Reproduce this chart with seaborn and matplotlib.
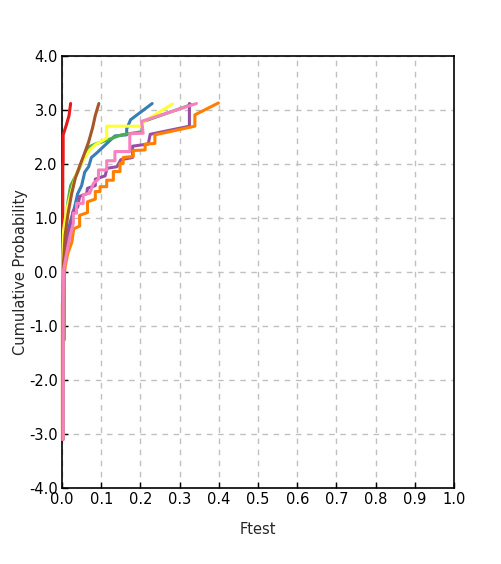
import seaborn as sns
import pandas as pd
import matplotlib.pyplot as plt

# probability-plot traces (x = Ftest, y = normal quantile)
red_x = [0.002, 0.002, 0.003, 0.003, 0.011, 0.018, 0.022]
red_y = [-0.2, 2.0, 2.02, 2.54, 2.72, 2.9, 3.12]

blue_x = [0.002, 0.002, 0.004, 0.008, 0.015, 0.022, 0.032, 0.040, 0.050, 0.058, 0.068,
          0.075, 0.088, 0.101, 0.135, 0.165, 0.165, 0.175, 0.230]
blue_y = [-3.1, -0.2, 0.15, 0.45, 0.75, 0.95, 1.20, 1.45, 1.60, 1.85, 1.95,
          2.12, 2.20, 2.29, 2.52, 2.54, 2.65, 2.82, 3.12]

green_x = [0.002, 0.002, 0.006, 0.006, 0.008, 0.010, 0.015, 0.022, 0.040, 0.055, 0.070,
           0.085, 0.110, 0.152, 0.205, 0.205, 0.330]
green_y = [-3.1, -1.3, -1.25, 0.1, 0.5, 0.9, 1.3, 1.6, 1.85, 2.1, 2.32,
           2.37, 2.43, 2.54, 2.60, 2.78, 3.10]

purple_x = [0.002, 0.002, 0.003, 0.006, 0.012, 0.018, 0.025, 0.028, 0.040, 0.045, 0.063,
            0.065, 0.085, 0.085, 0.110, 0.115, 0.140, 0.150, 0.180, 0.180, 0.220,
            0.225, 0.325, 0.325]
purple_y = [-3.1, -0.3, 0.0, 0.30, 0.55, 0.80, 0.95, 1.12, 1.20, 1.40, 1.45,
            1.55, 1.60, 1.72, 1.78, 1.92, 1.95, 2.08, 2.12, 2.33, 2.37,
            2.55, 2.70, 3.12]

orange_x = [0.001, 0.001, 0.003, 0.008, 0.015, 0.025, 0.030, 0.045, 0.045, 0.065, 0.065,
            0.085, 0.085, 0.097, 0.097, 0.114, 0.114, 0.131, 0.131, 0.148, 0.148,
            0.156, 0.156, 0.182, 0.182, 0.212, 0.212, 0.237, 0.237, 0.339, 0.339, 0.399]
orange_y = [-3.1, -0.6, -0.3, 0.1, 0.35, 0.55, 0.80, 0.85, 1.05, 1.10, 1.30,
            1.35, 1.49, 1.49, 1.58, 1.58, 1.70, 1.70, 1.86, 1.86, 2.01,
            2.01, 2.12, 2.14, 2.25, 2.26, 2.37, 2.38, 2.54, 2.70, 2.91, 3.13]

yellow_x = [0.002, 0.002, 0.002, 0.004, 0.012, 0.025, 0.037, 0.050, 0.071, 0.084, 0.114,
            0.114, 0.205, 0.207, 0.282]
yellow_y = [-3.1, 0.0, 0.3, 0.78, 1.15, 1.52, 1.83, 2.02, 2.26, 2.35, 2.48,
            2.70, 2.70, 2.78, 3.11]

brown_x = [0.002, 0.002, 0.004, 0.008, 0.015, 0.024, 0.034, 0.046, 0.056, 0.068, 0.078,
           0.085, 0.094]
brown_y = [-3.1, -0.5, 0.2, 0.69, 1.06, 1.43, 1.74, 1.98, 2.17, 2.41, 2.67,
           2.9, 3.12]

pink_x = [0.003, 0.003, 0.004, 0.012, 0.020, 0.029, 0.029, 0.037, 0.037, 0.054, 0.054,
          0.071, 0.080, 0.093, 0.093, 0.114, 0.114, 0.135, 0.135, 0.173, 0.173,
          0.207, 0.203, 0.343]
pink_y = [-3.1, -0.5, 0.04, 0.35, 0.65, 0.90, 1.09, 1.09, 1.27, 1.27, 1.43,
          1.46, 1.64, 1.72, 1.89, 1.89, 2.06, 2.06, 2.23, 2.23, 2.56,
          2.57, 2.79, 3.12]

series = [('red', red_x, red_y), ('blue', blue_x, blue_y), ('green', green_x, green_y),
          ('purple', purple_x, purple_y), ('orange', orange_x, orange_y),
          ('yellow', yellow_x, yellow_y), ('brown', brown_x, brown_y),
          ('pink', pink_x, pink_y)]

rows = []
for name, xs, ys in series:
    for i, (x, y) in enumerate(zip(xs, ys)):
        rows.append([name, i, x, y])
df = pd.DataFrame(rows, columns=['series', 'idx', 'Ftest', 'prob'])

sns.set_theme(style='white')
plt.rcParams['font.family'] = ['DejaVu Sans']

fig = plt.figure(figsize=(5.02, 5.64), dpi=100)
ax = fig.add_axes([62 / 502, 76 / 564, 392 / 502, 432 / 564])

palette = ['#e41a1c', '#377eb8', '#4daf4a', '#984ea3', '#ff7f00', '#ffff33', '#a65628', '#f781bf']
sns.lineplot(data=df, x='Ftest', y='prob', hue='series', palette=palette,
             sort=False, estimator=None, linewidth=2.2, legend=False, ax=ax)
for line in ax.get_lines():
    line.set_zorder(3)
    line.set_clip_on(False)

ax.set_xlim(0, 1)
ax.set_ylim(-4, 4)
ax.set_xticks([i / 10 for i in range(11)])
ax.set_yticks(range(-4, 5))
ax.set_xticklabels(['%.1f' % (i / 10) for i in range(11)])
ax.set_yticklabels(['%.1f' % v for v in range(-4, 5)])
ax.tick_params(direction='in', length=4, width=1, colors='black', labelsize=10.5,
               left=True, bottom=True, pad=3)
ax.grid(True, linestyle=(0, (4, 4)), color='#c0c0c0', linewidth=1)
for s in ax.spines.values():
    s.set_color('black')
    s.set_linewidth(1.2)
ax.set_xlabel('Ftest', fontsize=10.5, labelpad=11)
ax.set_ylabel('Cumulative Probability', fontsize=10.5, labelpad=1)

fig.savefig('out.png', dpi=100)
